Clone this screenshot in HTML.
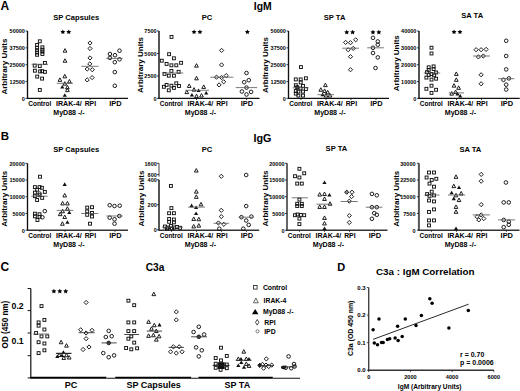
<!DOCTYPE html>
<html><head><meta charset="utf-8"><style>
html,body{margin:0;padding:0;background:#fff;}
svg{display:block;font-family:"Liberation Sans",sans-serif;font-weight:bold;}
</style></head><body>
<svg width="520" height="391" viewBox="0 0 520 391" font-family="Liberation Sans, sans-serif" font-weight="bold">
<style>.m{stroke:#111;stroke-width:0.95}</style>
<rect width="520" height="391" fill="#fff"/>
<text x="0.60" y="9.70" font-size="12" text-anchor="start" >A</text>
<text x="0.80" y="140.40" font-size="11.5" text-anchor="start" >B</text>
<text x="0.60" y="271.00" font-size="12" text-anchor="start" >C</text>
<text x="337.20" y="270.60" font-size="11" text-anchor="start" >D</text>
<text x="262.80" y="10.20" font-size="10.4" text-anchor="middle" >IgM</text>
<text x="262.40" y="142.30" font-size="10.8" text-anchor="middle" >IgG</text>
<line x1="27.50" y1="31.00" x2="27.50" y2="98.40" stroke="#111" stroke-width="1.35"/>
<line x1="26.90" y1="98.40" x2="128.00" y2="98.40" stroke="#111" stroke-width="1.35"/>
<line x1="25.50" y1="31.00" x2="27.50" y2="31.00" stroke="#111" stroke-width="0.8"/>
<text x="24.90" y="33.30" font-size="5.5" text-anchor="end" >50000</text>
<line x1="25.50" y1="47.85" x2="27.50" y2="47.85" stroke="#111" stroke-width="0.8"/>
<text x="24.90" y="50.15" font-size="5.5" text-anchor="end" >37500</text>
<line x1="25.50" y1="64.70" x2="27.50" y2="64.70" stroke="#111" stroke-width="0.8"/>
<text x="24.90" y="67.00" font-size="5.5" text-anchor="end" >25000</text>
<line x1="25.50" y1="81.55" x2="27.50" y2="81.55" stroke="#111" stroke-width="0.8"/>
<text x="24.90" y="83.85" font-size="5.5" text-anchor="end" >12500</text>
<line x1="25.50" y1="98.40" x2="27.50" y2="98.40" stroke="#111" stroke-width="0.8"/>
<text x="24.90" y="100.70" font-size="5.5" text-anchor="end" >0</text>
<line x1="40.00" y1="98.40" x2="40.00" y2="100.00" stroke="#111" stroke-width="0.8"/>
<line x1="65.00" y1="98.40" x2="65.00" y2="100.00" stroke="#111" stroke-width="0.8"/>
<line x1="90.00" y1="98.40" x2="90.00" y2="100.00" stroke="#111" stroke-width="0.8"/>
<line x1="115.00" y1="98.40" x2="115.00" y2="100.00" stroke="#111" stroke-width="0.8"/>
<text x="39.80" y="106.00" font-size="6.5" text-anchor="middle" lengthAdjust="spacingAndGlyphs" textLength="23.2">Control</text>
<text x="68.80" y="106.00" font-size="6.6" text-anchor="middle" lengthAdjust="spacingAndGlyphs" textLength="25.6">IRAK-4/</text>
<text x="90.40" y="106.00" font-size="6.6" text-anchor="middle" lengthAdjust="spacingAndGlyphs" textLength="11.4">RPI</text>
<text x="115.40" y="106.00" font-size="6.6" text-anchor="middle" lengthAdjust="spacingAndGlyphs" textLength="12.4">IPD</text>
<text x="68.95" y="114.80" font-size="6.8" text-anchor="middle" lengthAdjust="spacingAndGlyphs" textLength="31.4">MyD88 -/-</text>
<text x="0" y="0" font-size="8" text-anchor="middle" transform="translate(6.80,66.60) rotate(-90)">Arbitrary Units</text>
<text x="76.20" y="19.80" font-size="7.6" text-anchor="middle" >SP Capsules</text>
<line x1="159.00" y1="31.00" x2="159.00" y2="98.40" stroke="#555" stroke-width="2.0"/>
<line x1="158.40" y1="98.40" x2="259.50" y2="98.40" stroke="#111" stroke-width="1.35"/>
<line x1="157.00" y1="31.00" x2="159.00" y2="31.00" stroke="#111" stroke-width="0.8"/>
<text x="156.60" y="33.30" font-size="5.5" text-anchor="end" >7500</text>
<line x1="157.00" y1="53.47" x2="159.00" y2="53.47" stroke="#111" stroke-width="0.8"/>
<text x="156.60" y="55.77" font-size="5.5" text-anchor="end" >5000</text>
<line x1="157.00" y1="75.93" x2="159.00" y2="75.93" stroke="#111" stroke-width="0.8"/>
<text x="156.60" y="78.23" font-size="5.5" text-anchor="end" >2500</text>
<line x1="157.00" y1="98.40" x2="159.00" y2="98.40" stroke="#111" stroke-width="0.8"/>
<text x="156.60" y="100.70" font-size="5.5" text-anchor="end" >0</text>
<line x1="171.50" y1="98.40" x2="171.50" y2="100.00" stroke="#111" stroke-width="0.8"/>
<line x1="196.50" y1="98.40" x2="196.50" y2="100.00" stroke="#111" stroke-width="0.8"/>
<line x1="221.50" y1="98.40" x2="221.50" y2="100.00" stroke="#111" stroke-width="0.8"/>
<line x1="246.50" y1="98.40" x2="246.50" y2="100.00" stroke="#111" stroke-width="0.8"/>
<text x="171.30" y="106.00" font-size="6.5" text-anchor="middle" lengthAdjust="spacingAndGlyphs" textLength="23.2">Control</text>
<text x="200.30" y="106.00" font-size="6.6" text-anchor="middle" lengthAdjust="spacingAndGlyphs" textLength="25.6">IRAK-4/</text>
<text x="221.90" y="106.00" font-size="6.6" text-anchor="middle" lengthAdjust="spacingAndGlyphs" textLength="11.4">RPI</text>
<text x="246.90" y="106.00" font-size="6.6" text-anchor="middle" lengthAdjust="spacingAndGlyphs" textLength="12.4">IPD</text>
<text x="200.45" y="114.80" font-size="6.8" text-anchor="middle" lengthAdjust="spacingAndGlyphs" textLength="31.4">MyD88 -/-</text>
<text x="0" y="0" font-size="8" text-anchor="middle" transform="translate(143.10,65.00) rotate(-90)">Arbitrary Units</text>
<text x="207.00" y="19.90" font-size="7.6" text-anchor="middle" >PC</text>
<line x1="288.50" y1="31.00" x2="288.50" y2="98.40" stroke="#111" stroke-width="1.35"/>
<line x1="287.90" y1="98.40" x2="389.00" y2="98.40" stroke="#111" stroke-width="1.35"/>
<line x1="286.50" y1="31.00" x2="288.50" y2="31.00" stroke="#111" stroke-width="0.8"/>
<text x="285.90" y="33.30" font-size="5.5" text-anchor="end" >50000</text>
<line x1="286.50" y1="47.85" x2="288.50" y2="47.85" stroke="#111" stroke-width="0.8"/>
<text x="285.90" y="50.15" font-size="5.5" text-anchor="end" >37500</text>
<line x1="286.50" y1="64.70" x2="288.50" y2="64.70" stroke="#111" stroke-width="0.8"/>
<text x="285.90" y="67.00" font-size="5.5" text-anchor="end" >25000</text>
<line x1="286.50" y1="81.55" x2="288.50" y2="81.55" stroke="#111" stroke-width="0.8"/>
<text x="285.90" y="83.85" font-size="5.5" text-anchor="end" >12500</text>
<line x1="286.50" y1="98.40" x2="288.50" y2="98.40" stroke="#111" stroke-width="0.8"/>
<text x="285.90" y="100.70" font-size="5.5" text-anchor="end" >0</text>
<line x1="301.00" y1="98.40" x2="301.00" y2="100.00" stroke="#111" stroke-width="0.8"/>
<line x1="326.00" y1="98.40" x2="326.00" y2="100.00" stroke="#111" stroke-width="0.8"/>
<line x1="351.00" y1="98.40" x2="351.00" y2="100.00" stroke="#111" stroke-width="0.8"/>
<line x1="376.00" y1="98.40" x2="376.00" y2="100.00" stroke="#111" stroke-width="0.8"/>
<text x="300.80" y="106.00" font-size="6.5" text-anchor="middle" lengthAdjust="spacingAndGlyphs" textLength="23.2">Control</text>
<text x="329.80" y="106.00" font-size="6.6" text-anchor="middle" lengthAdjust="spacingAndGlyphs" textLength="25.6">IRAK-4/</text>
<text x="351.40" y="106.00" font-size="6.6" text-anchor="middle" lengthAdjust="spacingAndGlyphs" textLength="11.4">RPI</text>
<text x="376.40" y="106.00" font-size="6.6" text-anchor="middle" lengthAdjust="spacingAndGlyphs" textLength="12.4">IPD</text>
<text x="329.95" y="114.80" font-size="6.8" text-anchor="middle" lengthAdjust="spacingAndGlyphs" textLength="31.4">MyD88 -/-</text>
<text x="0" y="0" font-size="8" text-anchor="middle" transform="translate(267.60,65.10) rotate(-90)">Arbitrary Units</text>
<text x="334.60" y="19.50" font-size="7.6" text-anchor="middle" >SP TA</text>
<line x1="419.00" y1="31.00" x2="419.00" y2="98.40" stroke="#555" stroke-width="2.0"/>
<line x1="418.40" y1="98.40" x2="519.70" y2="98.40" stroke="#111" stroke-width="1.35"/>
<line x1="417.00" y1="31.00" x2="419.00" y2="31.00" stroke="#111" stroke-width="0.8"/>
<text x="416.40" y="33.30" font-size="5.5" text-anchor="end" >40000</text>
<line x1="417.00" y1="47.85" x2="419.00" y2="47.85" stroke="#111" stroke-width="0.8"/>
<text x="416.40" y="50.15" font-size="5.5" text-anchor="end" >30000</text>
<line x1="417.00" y1="64.70" x2="419.00" y2="64.70" stroke="#111" stroke-width="0.8"/>
<text x="416.40" y="67.00" font-size="5.5" text-anchor="end" >20000</text>
<line x1="417.00" y1="81.55" x2="419.00" y2="81.55" stroke="#111" stroke-width="0.8"/>
<text x="416.40" y="83.85" font-size="5.5" text-anchor="end" >10000</text>
<line x1="417.00" y1="98.40" x2="419.00" y2="98.40" stroke="#111" stroke-width="0.8"/>
<text x="416.40" y="100.70" font-size="5.5" text-anchor="end" >0</text>
<line x1="431.50" y1="98.40" x2="431.50" y2="100.00" stroke="#111" stroke-width="0.8"/>
<line x1="456.50" y1="98.40" x2="456.50" y2="100.00" stroke="#111" stroke-width="0.8"/>
<line x1="481.50" y1="98.40" x2="481.50" y2="100.00" stroke="#111" stroke-width="0.8"/>
<line x1="506.50" y1="98.40" x2="506.50" y2="100.00" stroke="#111" stroke-width="0.8"/>
<text x="431.30" y="106.00" font-size="6.5" text-anchor="middle" lengthAdjust="spacingAndGlyphs" textLength="23.2">Control</text>
<text x="460.30" y="106.00" font-size="6.6" text-anchor="middle" lengthAdjust="spacingAndGlyphs" textLength="25.6">IRAK-4/</text>
<text x="481.90" y="106.00" font-size="6.6" text-anchor="middle" lengthAdjust="spacingAndGlyphs" textLength="11.4">RPI</text>
<text x="506.90" y="106.00" font-size="6.6" text-anchor="middle" lengthAdjust="spacingAndGlyphs" textLength="12.4">IPD</text>
<text x="460.45" y="114.80" font-size="6.8" text-anchor="middle" lengthAdjust="spacingAndGlyphs" textLength="31.4">MyD88 -/-</text>
<text x="0" y="0" font-size="8" text-anchor="middle" transform="translate(398.80,63.20) rotate(-90)">Arbitrary Units</text>
<text x="472.20" y="18.10" font-size="7.6" text-anchor="middle" >SA TA</text>
<polygon points="62.85,29.40 63.61,30.95 65.32,31.20 64.09,32.40 64.38,34.10 62.85,33.30 61.32,34.10 61.61,32.40 60.38,31.20 62.09,30.95" fill="#000"/>
<polygon points="68.75,29.40 69.51,30.95 71.22,31.20 69.99,32.40 70.28,34.10 68.75,33.30 67.22,34.10 67.51,32.40 66.28,31.20 67.99,30.95" fill="#000"/>
<polygon points="194.05,29.40 194.81,30.95 196.52,31.20 195.29,32.40 195.58,34.10 194.05,33.30 192.52,34.10 192.81,32.40 191.58,31.20 193.29,30.95" fill="#000"/>
<polygon points="199.95,29.40 200.71,30.95 202.42,31.20 201.19,32.40 201.48,34.10 199.95,33.30 198.42,34.10 198.71,32.40 197.48,31.20 199.19,30.95" fill="#000"/>
<polygon points="247.40,29.40 248.16,30.95 249.87,31.20 248.64,32.40 248.93,34.10 247.40,33.30 245.87,34.10 246.16,32.40 244.93,31.20 246.64,30.95" fill="#000"/>
<polygon points="346.75,29.70 347.51,31.25 349.22,31.50 347.99,32.70 348.28,34.40 346.75,33.60 345.22,34.40 345.51,32.70 344.28,31.50 345.99,31.25" fill="#000"/>
<polygon points="352.65,29.70 353.41,31.25 355.12,31.50 353.89,32.70 354.18,34.40 352.65,33.60 351.12,34.40 351.41,32.70 350.18,31.50 351.89,31.25" fill="#000"/>
<polygon points="372.95,29.70 373.71,31.25 375.42,31.50 374.19,32.70 374.48,34.40 372.95,33.60 371.42,34.40 371.71,32.70 370.48,31.50 372.19,31.25" fill="#000"/>
<polygon points="378.85,29.70 379.61,31.25 381.32,31.50 380.09,32.70 380.38,34.40 378.85,33.60 377.32,34.40 377.61,32.70 376.38,31.50 378.09,31.25" fill="#000"/>
<polygon points="454.05,29.40 454.81,30.95 456.52,31.20 455.29,32.40 455.58,34.10 454.05,33.30 452.52,34.10 452.81,32.40 451.58,31.20 453.29,30.95" fill="#000"/>
<polygon points="459.95,29.40 460.71,30.95 462.42,31.20 461.19,32.40 461.48,34.10 459.95,33.30 458.42,34.10 458.71,32.40 457.48,31.20 459.19,30.95" fill="#000"/>
<rect x="38.35" y="39.85" width="2.9" height="2.9" fill="none" class="m"/>
<rect x="35.65" y="43.45" width="2.9" height="2.9" fill="none" class="m"/>
<rect x="35.65" y="46.35" width="2.9" height="2.9" fill="none" class="m"/>
<rect x="35.65" y="48.75" width="2.9" height="2.9" fill="none" class="m"/>
<rect x="35.65" y="51.15" width="2.9" height="2.9" fill="none" class="m"/>
<rect x="35.65" y="53.35" width="2.9" height="2.9" fill="none" class="m"/>
<rect x="40.95" y="45.85" width="2.9" height="2.9" fill="none" class="m"/>
<rect x="40.95" y="48.25" width="2.9" height="2.9" fill="none" class="m"/>
<rect x="40.95" y="50.15" width="2.9" height="2.9" fill="none" class="m"/>
<rect x="40.95" y="52.55" width="2.9" height="2.9" fill="none" class="m"/>
<rect x="43.45" y="61.45" width="2.9" height="2.9" fill="none" class="m"/>
<rect x="33.25" y="64.15" width="2.9" height="2.9" fill="none" class="m"/>
<rect x="38.35" y="64.65" width="2.9" height="2.9" fill="none" class="m"/>
<rect x="33.45" y="69.25" width="2.9" height="2.9" fill="none" class="m"/>
<rect x="38.65" y="69.95" width="2.9" height="2.9" fill="none" class="m"/>
<rect x="40.75" y="69.75" width="2.9" height="2.9" fill="none" class="m"/>
<rect x="43.45" y="70.45" width="2.9" height="2.9" fill="none" class="m"/>
<rect x="35.75" y="75.15" width="2.9" height="2.9" fill="none" class="m"/>
<rect x="40.65" y="77.15" width="2.9" height="2.9" fill="none" class="m"/>
<rect x="38.35" y="88.45" width="2.9" height="2.9" fill="none" class="m"/>
<line x1="31.60" y1="64.30" x2="48.00" y2="64.30" stroke="#555" stroke-width="0.8"/>
<path d="M65.00 48.65L66.85 52.15L63.15 52.15Z" fill="none" class="m"/>
<path d="M65.00 58.75L66.85 62.25L63.15 62.25Z" fill="none" class="m"/>
<path d="M64.80 74.35L66.65 77.85L62.95 77.85Z" fill="none" class="m"/>
<path d="M59.90 77.85L61.75 81.35L58.05 81.35Z" fill="none" class="m"/>
<path d="M69.40 79.45L71.25 82.95L67.55 82.95Z" fill="none" class="m"/>
<path d="M64.80 81.65L66.65 85.15L62.95 85.15Z" fill="none" class="m"/>
<path d="M67.40 85.35L69.25 88.85L65.55 88.85Z" fill="none" class="m"/>
<path d="M67.40 88.15L69.25 91.65L65.55 91.65Z" fill="none" class="m"/>
<path d="M62.30 85.00L64.40 88.60L60.20 88.60Z" fill="#111"/>
<path d="M64.80 93.20L66.90 96.80L62.70 96.80Z" fill="#111"/>
<line x1="56.70" y1="83.30" x2="73.00" y2="83.30" stroke="#555" stroke-width="0.8"/>
<path d="M90.00 40.90L92.10 43.00L90.00 45.10L87.90 43.00Z" fill="none" class="m"/>
<path d="M90.00 46.40L92.10 48.50L90.00 50.60L87.90 48.50Z" fill="none" class="m"/>
<path d="M90.00 55.80L92.10 57.90L90.00 60.00L87.90 57.90Z" fill="none" class="m"/>
<path d="M89.80 61.80L91.90 63.90L89.80 66.00L87.70 63.90Z" fill="none" class="m"/>
<path d="M87.20 66.90L89.30 69.00L87.20 71.10L85.10 69.00Z" fill="none" class="m"/>
<path d="M92.30 67.60L94.40 69.70L92.30 71.80L90.20 69.70Z" fill="none" class="m"/>
<path d="M92.10 75.50L94.20 77.60L92.10 79.70L90.00 77.60Z" fill="none" class="m"/>
<path d="M87.20 77.80L89.30 79.90L87.20 82.00L85.10 79.90Z" fill="none" class="m"/>
<line x1="81.30" y1="66.30" x2="98.50" y2="66.30" stroke="#555" stroke-width="0.8"/>
<circle cx="119.50" cy="50.70" r="1.8" fill="none" class="m"/>
<circle cx="109.90" cy="54.00" r="1.8" fill="none" class="m"/>
<circle cx="109.90" cy="57.90" r="1.8" fill="none" class="m"/>
<circle cx="115.00" cy="55.20" r="1.8" fill="none" class="m"/>
<circle cx="119.50" cy="59.30" r="1.8" fill="none" class="m"/>
<circle cx="114.80" cy="62.20" r="1.8" fill="none" class="m"/>
<circle cx="114.80" cy="72.10" r="1.8" fill="none" class="m"/>
<circle cx="114.80" cy="85.80" r="1.8" fill="none" class="m"/>
<line x1="106.30" y1="58.40" x2="122.70" y2="58.40" stroke="#555" stroke-width="0.8"/>
<rect x="170.05" y="35.45" width="2.9" height="2.9" fill="none" class="m"/>
<rect x="167.65" y="52.75" width="2.9" height="2.9" fill="none" class="m"/>
<rect x="172.45" y="56.85" width="2.9" height="2.9" fill="none" class="m"/>
<rect x="160.35" y="59.25" width="2.9" height="2.9" fill="none" class="m"/>
<rect x="165.15" y="62.45" width="2.9" height="2.9" fill="none" class="m"/>
<rect x="169.95" y="63.85" width="2.9" height="2.9" fill="none" class="m"/>
<rect x="174.85" y="63.85" width="2.9" height="2.9" fill="none" class="m"/>
<rect x="179.65" y="61.35" width="2.9" height="2.9" fill="none" class="m"/>
<rect x="169.95" y="69.45" width="2.9" height="2.9" fill="none" class="m"/>
<rect x="163.05" y="72.45" width="2.9" height="2.9" fill="none" class="m"/>
<rect x="167.35" y="74.25" width="2.9" height="2.9" fill="none" class="m"/>
<rect x="172.45" y="74.25" width="2.9" height="2.9" fill="none" class="m"/>
<rect x="177.15" y="70.35" width="2.9" height="2.9" fill="none" class="m"/>
<rect x="162.45" y="85.35" width="2.9" height="2.9" fill="none" class="m"/>
<rect x="165.15" y="83.45" width="2.9" height="2.9" fill="none" class="m"/>
<rect x="169.95" y="84.25" width="2.9" height="2.9" fill="none" class="m"/>
<rect x="172.45" y="86.45" width="2.9" height="2.9" fill="none" class="m"/>
<rect x="174.85" y="81.85" width="2.9" height="2.9" fill="none" class="m"/>
<rect x="177.55" y="84.55" width="2.9" height="2.9" fill="none" class="m"/>
<rect x="167.35" y="88.85" width="2.9" height="2.9" fill="none" class="m"/>
<line x1="162.30" y1="73.00" x2="183.30" y2="73.00" stroke="#555" stroke-width="0.8"/>
<path d="M196.50 63.65L198.35 67.15L194.65 67.15Z" fill="none" class="m"/>
<path d="M196.50 76.35L198.35 79.85L194.65 79.85Z" fill="none" class="m"/>
<path d="M189.20 83.95L191.05 87.45L187.35 87.45Z" fill="none" class="m"/>
<path d="M203.70 84.95L205.55 88.45L201.85 88.45Z" fill="none" class="m"/>
<path d="M194.00 87.65L195.85 91.15L192.15 91.15Z" fill="none" class="m"/>
<path d="M186.80 90.15L188.65 93.65L184.95 93.65Z" fill="none" class="m"/>
<path d="M196.50 94.15L198.35 97.65L194.65 97.65Z" fill="none" class="m"/>
<path d="M201.50 93.55L203.35 97.05L199.65 97.05Z" fill="none" class="m"/>
<path d="M198.60 88.50L200.70 92.10L196.50 92.10Z" fill="#111"/>
<path d="M191.90 93.00L194.00 96.60L189.80 96.60Z" fill="#111"/>
<path d="M206.20 90.90L208.30 94.50L204.10 94.50Z" fill="#111"/>
<line x1="185.40" y1="90.30" x2="209.00" y2="90.30" stroke="#555" stroke-width="0.8"/>
<path d="M221.60 48.30L223.70 50.40L221.60 52.50L219.50 50.40Z" fill="none" class="m"/>
<path d="M221.60 62.80L223.70 64.90L221.60 67.00L219.50 64.90Z" fill="none" class="m"/>
<path d="M216.50 75.10L218.60 77.20L216.50 79.30L214.40 77.20Z" fill="none" class="m"/>
<path d="M221.60 75.50L223.70 77.60L221.60 79.70L219.50 77.60Z" fill="none" class="m"/>
<path d="M226.20 73.50L228.30 75.60L226.20 77.70L224.10 75.60Z" fill="none" class="m"/>
<path d="M223.70 79.70L225.80 81.80L223.70 83.90L221.60 81.80Z" fill="none" class="m"/>
<path d="M219.10 82.80L221.20 84.90L219.10 87.00L217.00 84.90Z" fill="none" class="m"/>
<line x1="210.40" y1="77.20" x2="233.40" y2="77.20" stroke="#555" stroke-width="0.8"/>
<circle cx="246.50" cy="73.00" r="1.8" fill="none" class="m"/>
<circle cx="244.20" cy="82.20" r="1.8" fill="none" class="m"/>
<circle cx="248.80" cy="80.20" r="1.8" fill="none" class="m"/>
<circle cx="246.50" cy="87.60" r="1.8" fill="none" class="m"/>
<circle cx="241.90" cy="91.50" r="1.8" fill="none" class="m"/>
<circle cx="251.10" cy="91.90" r="1.8" fill="none" class="m"/>
<circle cx="246.50" cy="94.50" r="1.8" fill="none" class="m"/>
<line x1="235.70" y1="87.60" x2="257.20" y2="87.60" stroke="#555" stroke-width="0.8"/>
<rect x="299.45" y="65.65" width="2.9" height="2.9" fill="none" class="m"/>
<rect x="294.35" y="77.95" width="2.9" height="2.9" fill="none" class="m"/>
<rect x="299.25" y="77.95" width="2.9" height="2.9" fill="none" class="m"/>
<rect x="304.45" y="76.85" width="2.9" height="2.9" fill="none" class="m"/>
<rect x="299.25" y="80.95" width="2.9" height="2.9" fill="none" class="m"/>
<rect x="294.35" y="83.75" width="2.9" height="2.9" fill="none" class="m"/>
<rect x="301.55" y="84.45" width="2.9" height="2.9" fill="none" class="m"/>
<rect x="304.45" y="87.55" width="2.9" height="2.9" fill="none" class="m"/>
<rect x="294.35" y="89.55" width="2.9" height="2.9" fill="none" class="m"/>
<rect x="296.95" y="90.15" width="2.9" height="2.9" fill="none" class="m"/>
<rect x="301.55" y="90.15" width="2.9" height="2.9" fill="none" class="m"/>
<rect x="294.35" y="92.15" width="2.9" height="2.9" fill="none" class="m"/>
<rect x="296.95" y="94.15" width="2.9" height="2.9" fill="none" class="m"/>
<rect x="301.55" y="94.15" width="2.9" height="2.9" fill="none" class="m"/>
<rect x="299.05" y="87.05" width="2.9" height="2.9" fill="none" class="m"/>
<rect x="295.75" y="85.85" width="2.9" height="2.9" fill="#333" class="m"/>
<line x1="292.60" y1="87.80" x2="308.70" y2="87.80" stroke="#555" stroke-width="0.8"/>
<path d="M325.40 83.15L327.25 86.65L323.55 86.65Z" fill="none" class="m"/>
<path d="M320.80 87.75L322.65 91.25L318.95 91.25Z" fill="none" class="m"/>
<path d="M324.60 88.95L326.45 92.45L322.75 92.45Z" fill="none" class="m"/>
<path d="M327.70 90.35L329.55 93.85L325.85 93.85Z" fill="none" class="m"/>
<path d="M326.00 93.55L327.85 97.05L324.15 97.05Z" fill="none" class="m"/>
<path d="M330.00 93.55L331.85 97.05L328.15 97.05Z" fill="none" class="m"/>
<path d="M322.60 92.60L324.70 96.20L320.50 96.20Z" fill="#111"/>
<line x1="317.40" y1="94.70" x2="334.00" y2="94.70" stroke="#555" stroke-width="0.8"/>
<path d="M345.60 40.30L347.70 42.40L345.60 44.50L343.50 42.40Z" fill="none" class="m"/>
<path d="M350.50 40.60L352.60 42.70L350.50 44.80L348.40 42.70Z" fill="none" class="m"/>
<path d="M355.70 37.70L357.80 39.80L355.70 41.90L353.60 39.80Z" fill="none" class="m"/>
<path d="M348.20 47.70L350.30 49.80L348.20 51.90L346.10 49.80Z" fill="none" class="m"/>
<path d="M353.20 46.30L355.30 48.40L353.20 50.50L351.10 48.40Z" fill="none" class="m"/>
<path d="M350.50 54.60L352.60 56.70L350.50 58.80L348.40 56.70Z" fill="none" class="m"/>
<path d="M350.50 67.60L352.60 69.70L350.50 71.80L348.40 69.70Z" fill="none" class="m"/>
<line x1="342.10" y1="48.20" x2="358.90" y2="48.20" stroke="#555" stroke-width="0.8"/>
<circle cx="373.00" cy="37.80" r="1.8" fill="none" class="m"/>
<circle cx="377.80" cy="41.50" r="1.8" fill="none" class="m"/>
<circle cx="377.80" cy="44.70" r="1.8" fill="none" class="m"/>
<circle cx="373.00" cy="47.80" r="1.8" fill="none" class="m"/>
<circle cx="373.00" cy="53.00" r="1.8" fill="none" class="m"/>
<circle cx="377.80" cy="57.40" r="1.8" fill="none" class="m"/>
<circle cx="375.50" cy="68.00" r="1.8" fill="none" class="m"/>
<line x1="367.20" y1="47.80" x2="383.90" y2="47.80" stroke="#555" stroke-width="0.8"/>
<rect x="430.05" y="46.25" width="2.9" height="2.9" fill="none" class="m"/>
<rect x="430.05" y="52.05" width="2.9" height="2.9" fill="none" class="m"/>
<rect x="427.25" y="65.85" width="2.9" height="2.9" fill="none" class="m"/>
<rect x="432.15" y="64.95" width="2.9" height="2.9" fill="none" class="m"/>
<rect x="427.25" y="68.45" width="2.9" height="2.9" fill="none" class="m"/>
<rect x="432.15" y="67.65" width="2.9" height="2.9" fill="none" class="m"/>
<rect x="425.45" y="70.75" width="2.9" height="2.9" fill="none" class="m"/>
<rect x="434.65" y="71.05" width="2.9" height="2.9" fill="none" class="m"/>
<rect x="430.05" y="72.55" width="2.9" height="2.9" fill="none" class="m"/>
<rect x="427.25" y="73.55" width="2.9" height="2.9" fill="none" class="m"/>
<rect x="432.65" y="73.85" width="2.9" height="2.9" fill="none" class="m"/>
<rect x="424.95" y="76.15" width="2.9" height="2.9" fill="none" class="m"/>
<rect x="430.05" y="78.15" width="2.9" height="2.9" fill="none" class="m"/>
<rect x="434.65" y="77.25" width="2.9" height="2.9" fill="none" class="m"/>
<rect x="430.05" y="84.25" width="2.9" height="2.9" fill="none" class="m"/>
<rect x="424.95" y="87.35" width="2.9" height="2.9" fill="none" class="m"/>
<rect x="434.65" y="88.35" width="2.9" height="2.9" fill="none" class="m"/>
<rect x="430.05" y="91.45" width="2.9" height="2.9" fill="none" class="m"/>
<line x1="423.80" y1="73.00" x2="440.20" y2="73.00" stroke="#555" stroke-width="0.8"/>
<path d="M456.30 71.95L458.15 75.45L454.45 75.45Z" fill="none" class="m"/>
<path d="M456.30 77.85L458.15 81.35L454.45 81.35Z" fill="none" class="m"/>
<path d="M454.00 83.65L455.85 87.15L452.15 87.15Z" fill="none" class="m"/>
<path d="M458.60 85.85L460.45 89.35L456.75 89.35Z" fill="none" class="m"/>
<path d="M451.70 91.65L453.55 95.15L449.85 95.15Z" fill="none" class="m"/>
<path d="M455.60 90.05L457.45 93.55L453.75 93.55Z" fill="none" class="m"/>
<path d="M457.60 91.90L459.70 95.50L455.50 95.50Z" fill="#111"/>
<path d="M460.20 93.90L462.30 97.50L458.10 97.50Z" fill="#111"/>
<line x1="448.70" y1="92.90" x2="464.00" y2="92.90" stroke="#555" stroke-width="0.8"/>
<path d="M476.10 47.60L478.20 49.70L476.10 51.80L474.00 49.70Z" fill="none" class="m"/>
<path d="M481.10 47.60L483.20 49.70L481.10 51.80L479.00 49.70Z" fill="none" class="m"/>
<path d="M486.10 47.30L488.20 49.40L486.10 51.50L484.00 49.40Z" fill="none" class="m"/>
<path d="M478.40 54.80L480.50 56.90L478.40 59.00L476.30 56.90Z" fill="none" class="m"/>
<path d="M483.30 53.90L485.40 56.00L483.30 58.10L481.20 56.00Z" fill="none" class="m"/>
<path d="M481.10 72.70L483.20 74.80L481.10 76.90L479.00 74.80Z" fill="none" class="m"/>
<path d="M481.10 81.70L483.20 83.80L481.10 85.90L479.00 83.80Z" fill="none" class="m"/>
<line x1="473.00" y1="56.00" x2="490.00" y2="56.00" stroke="#555" stroke-width="0.8"/>
<circle cx="506.20" cy="40.80" r="1.8" fill="none" class="m"/>
<circle cx="506.20" cy="56.00" r="1.8" fill="none" class="m"/>
<circle cx="506.20" cy="69.40" r="1.8" fill="none" class="m"/>
<circle cx="503.50" cy="79.80" r="1.8" fill="none" class="m"/>
<circle cx="508.90" cy="78.40" r="1.8" fill="none" class="m"/>
<circle cx="506.20" cy="84.70" r="1.8" fill="none" class="m"/>
<circle cx="506.20" cy="89.50" r="1.8" fill="none" class="m"/>
<line x1="498.20" y1="78.70" x2="514.30" y2="78.70" stroke="#555" stroke-width="0.8"/>
<line x1="27.50" y1="163.30" x2="27.50" y2="230.20" stroke="#111" stroke-width="1.35"/>
<line x1="26.90" y1="230.20" x2="128.00" y2="230.20" stroke="#333" stroke-width="1.35"/>
<line x1="25.50" y1="163.30" x2="27.50" y2="163.30" stroke="#111" stroke-width="0.8"/>
<text x="24.80" y="165.60" font-size="5.5" text-anchor="end" >20000</text>
<line x1="25.50" y1="180.03" x2="27.50" y2="180.03" stroke="#111" stroke-width="0.8"/>
<text x="24.80" y="182.33" font-size="5.5" text-anchor="end" >15000</text>
<line x1="25.50" y1="196.75" x2="27.50" y2="196.75" stroke="#111" stroke-width="0.8"/>
<text x="24.80" y="199.05" font-size="5.5" text-anchor="end" >10000</text>
<line x1="25.50" y1="213.47" x2="27.50" y2="213.47" stroke="#111" stroke-width="0.8"/>
<text x="24.80" y="215.78" font-size="5.5" text-anchor="end" >5000</text>
<line x1="25.50" y1="230.20" x2="27.50" y2="230.20" stroke="#111" stroke-width="0.8"/>
<text x="24.80" y="232.50" font-size="5.5" text-anchor="end" >0</text>
<line x1="40.00" y1="230.20" x2="40.00" y2="231.80" stroke="#111" stroke-width="0.8"/>
<line x1="65.00" y1="230.20" x2="65.00" y2="231.80" stroke="#111" stroke-width="0.8"/>
<line x1="90.00" y1="230.20" x2="90.00" y2="231.80" stroke="#111" stroke-width="0.8"/>
<line x1="115.00" y1="230.20" x2="115.00" y2="231.80" stroke="#111" stroke-width="0.8"/>
<text x="39.80" y="237.80" font-size="6.5" text-anchor="middle" lengthAdjust="spacingAndGlyphs" textLength="23.2">Control</text>
<text x="68.80" y="237.80" font-size="6.6" text-anchor="middle" lengthAdjust="spacingAndGlyphs" textLength="25.6">IRAK-4/</text>
<text x="90.40" y="237.80" font-size="6.6" text-anchor="middle" lengthAdjust="spacingAndGlyphs" textLength="11.4">RPI</text>
<text x="115.40" y="237.80" font-size="6.6" text-anchor="middle" lengthAdjust="spacingAndGlyphs" textLength="12.4">IPD</text>
<text x="68.95" y="246.60" font-size="6.8" text-anchor="middle" lengthAdjust="spacingAndGlyphs" textLength="31.4">MyD88 -/-</text>
<text x="0" y="0" font-size="8" text-anchor="middle" transform="translate(6.70,198.70) rotate(-90)">Arbitrary Units</text>
<text x="76.20" y="152.40" font-size="7.6" text-anchor="middle" >SP Capsules</text>
<line x1="159.00" y1="179.80" x2="159.00" y2="230.20" stroke="#555" stroke-width="2.0"/>
<line x1="159.00" y1="163.30" x2="159.00" y2="176.60" stroke="#444" stroke-width="1.0"/>
<line x1="158.40" y1="230.20" x2="259.20" y2="230.20" stroke="#333" stroke-width="1.35"/>
<line x1="157.00" y1="163.30" x2="159.00" y2="163.30" stroke="#111" stroke-width="0.8"/>
<text x="156.80" y="165.60" font-size="5.5" text-anchor="end" >1600</text>
<line x1="157.00" y1="174.60" x2="159.00" y2="174.60" stroke="#111" stroke-width="0.8"/>
<text x="156.80" y="176.90" font-size="5.5" text-anchor="end" >800</text>
<line x1="157.00" y1="179.80" x2="159.00" y2="179.80" stroke="#111" stroke-width="0.8"/>
<text x="156.80" y="182.10" font-size="5.5" text-anchor="end" >400</text>
<line x1="157.00" y1="204.80" x2="159.00" y2="204.80" stroke="#111" stroke-width="0.8"/>
<text x="156.80" y="207.10" font-size="5.5" text-anchor="end" >200</text>
<line x1="157.00" y1="229.80" x2="159.00" y2="229.80" stroke="#111" stroke-width="0.8"/>
<text x="156.80" y="232.10" font-size="5.5" text-anchor="end" >0</text>
<line x1="171.50" y1="230.20" x2="171.50" y2="231.80" stroke="#111" stroke-width="0.8"/>
<line x1="196.50" y1="230.20" x2="196.50" y2="231.80" stroke="#111" stroke-width="0.8"/>
<line x1="221.50" y1="230.20" x2="221.50" y2="231.80" stroke="#111" stroke-width="0.8"/>
<line x1="246.50" y1="230.20" x2="246.50" y2="231.80" stroke="#111" stroke-width="0.8"/>
<text x="171.30" y="237.80" font-size="6.5" text-anchor="middle" lengthAdjust="spacingAndGlyphs" textLength="23.2">Control</text>
<text x="200.30" y="237.80" font-size="6.6" text-anchor="middle" lengthAdjust="spacingAndGlyphs" textLength="25.6">IRAK-4/</text>
<text x="221.90" y="237.80" font-size="6.6" text-anchor="middle" lengthAdjust="spacingAndGlyphs" textLength="11.4">RPI</text>
<text x="246.90" y="237.80" font-size="6.6" text-anchor="middle" lengthAdjust="spacingAndGlyphs" textLength="12.4">IPD</text>
<text x="200.45" y="246.60" font-size="6.8" text-anchor="middle" lengthAdjust="spacingAndGlyphs" textLength="31.4">MyD88 -/-</text>
<text x="0" y="0" font-size="8" text-anchor="middle" transform="translate(143.5,198.6) rotate(-90)">Arbitrary Units</text>
<text x="207.00" y="151.80" font-size="7.6" text-anchor="middle" >PC</text>
<line x1="287.00" y1="163.30" x2="287.00" y2="230.20" stroke="#555" stroke-width="1.8"/>
<line x1="286.40" y1="230.20" x2="387.50" y2="230.20" stroke="#333" stroke-width="1.35"/>
<line x1="285.00" y1="163.30" x2="287.00" y2="163.30" stroke="#111" stroke-width="0.8"/>
<text x="284.50" y="165.60" font-size="5.5" text-anchor="end" >20000</text>
<line x1="285.00" y1="180.03" x2="287.00" y2="180.03" stroke="#111" stroke-width="0.8"/>
<text x="284.50" y="182.33" font-size="5.5" text-anchor="end" >15000</text>
<line x1="285.00" y1="196.75" x2="287.00" y2="196.75" stroke="#111" stroke-width="0.8"/>
<text x="284.50" y="199.05" font-size="5.5" text-anchor="end" >10000</text>
<line x1="285.00" y1="213.47" x2="287.00" y2="213.47" stroke="#111" stroke-width="0.8"/>
<text x="284.50" y="215.78" font-size="5.5" text-anchor="end" >5000</text>
<line x1="285.00" y1="230.20" x2="287.00" y2="230.20" stroke="#111" stroke-width="0.8"/>
<text x="284.50" y="232.50" font-size="5.5" text-anchor="end" >0</text>
<line x1="299.50" y1="230.20" x2="299.50" y2="231.80" stroke="#111" stroke-width="0.8"/>
<line x1="324.50" y1="230.20" x2="324.50" y2="231.80" stroke="#111" stroke-width="0.8"/>
<line x1="349.50" y1="230.20" x2="349.50" y2="231.80" stroke="#111" stroke-width="0.8"/>
<line x1="374.50" y1="230.20" x2="374.50" y2="231.80" stroke="#111" stroke-width="0.8"/>
<text x="299.30" y="237.80" font-size="6.5" text-anchor="middle" lengthAdjust="spacingAndGlyphs" textLength="23.2">Control</text>
<text x="328.30" y="237.80" font-size="6.6" text-anchor="middle" lengthAdjust="spacingAndGlyphs" textLength="25.6">IRAK-4/</text>
<text x="349.90" y="237.80" font-size="6.6" text-anchor="middle" lengthAdjust="spacingAndGlyphs" textLength="11.4">RPI</text>
<text x="374.90" y="237.80" font-size="6.6" text-anchor="middle" lengthAdjust="spacingAndGlyphs" textLength="12.4">IPD</text>
<text x="328.45" y="246.60" font-size="6.8" text-anchor="middle" lengthAdjust="spacingAndGlyphs" textLength="31.4">MyD88 -/-</text>
<text x="0" y="0" font-size="8" text-anchor="middle" transform="translate(268.40,198.50) rotate(-90)">Arbitrary Units</text>
<text x="336.40" y="150.60" font-size="7.6" text-anchor="middle" >SP TA</text>
<line x1="418.90" y1="163.30" x2="418.90" y2="230.20" stroke="#555" stroke-width="2.0"/>
<line x1="418.30" y1="230.20" x2="519.50" y2="230.20" stroke="#333" stroke-width="1.35"/>
<line x1="416.90" y1="163.30" x2="418.90" y2="163.30" stroke="#111" stroke-width="0.8"/>
<text x="415.50" y="165.60" font-size="5.5" text-anchor="end" >30000</text>
<line x1="416.90" y1="180.03" x2="418.90" y2="180.03" stroke="#111" stroke-width="0.8"/>
<text x="415.50" y="182.33" font-size="5.5" text-anchor="end" >22500</text>
<line x1="416.90" y1="196.75" x2="418.90" y2="196.75" stroke="#111" stroke-width="0.8"/>
<text x="415.50" y="199.05" font-size="5.5" text-anchor="end" >15000</text>
<line x1="416.90" y1="213.47" x2="418.90" y2="213.47" stroke="#111" stroke-width="0.8"/>
<text x="415.50" y="215.78" font-size="5.5" text-anchor="end" >7500</text>
<line x1="416.90" y1="230.20" x2="418.90" y2="230.20" stroke="#111" stroke-width="0.8"/>
<text x="415.50" y="232.50" font-size="5.5" text-anchor="end" >0</text>
<line x1="431.40" y1="230.20" x2="431.40" y2="231.80" stroke="#111" stroke-width="0.8"/>
<line x1="456.40" y1="230.20" x2="456.40" y2="231.80" stroke="#111" stroke-width="0.8"/>
<line x1="481.40" y1="230.20" x2="481.40" y2="231.80" stroke="#111" stroke-width="0.8"/>
<line x1="506.40" y1="230.20" x2="506.40" y2="231.80" stroke="#111" stroke-width="0.8"/>
<text x="431.20" y="237.80" font-size="6.5" text-anchor="middle" lengthAdjust="spacingAndGlyphs" textLength="23.2">Control</text>
<text x="460.20" y="237.80" font-size="6.6" text-anchor="middle" lengthAdjust="spacingAndGlyphs" textLength="25.6">IRAK-4/</text>
<text x="481.80" y="237.80" font-size="6.6" text-anchor="middle" lengthAdjust="spacingAndGlyphs" textLength="11.4">RPI</text>
<text x="506.80" y="237.80" font-size="6.6" text-anchor="middle" lengthAdjust="spacingAndGlyphs" textLength="12.4">IPD</text>
<text x="460.35" y="246.60" font-size="6.8" text-anchor="middle" lengthAdjust="spacingAndGlyphs" textLength="31.4">MyD88 -/-</text>
<text x="0" y="0" font-size="8" text-anchor="middle" transform="translate(399.20,198.70) rotate(-90)">Arbitrary Units</text>
<text x="470.40" y="151.50" font-size="7.6" text-anchor="middle" >SA TA</text>
<rect x="38.55" y="175.25" width="2.9" height="2.9" fill="none" class="m"/>
<rect x="33.45" y="185.65" width="2.9" height="2.9" fill="none" class="m"/>
<rect x="38.05" y="185.65" width="2.9" height="2.9" fill="none" class="m"/>
<rect x="40.45" y="186.35" width="2.9" height="2.9" fill="none" class="m"/>
<rect x="35.65" y="188.25" width="2.9" height="2.9" fill="none" class="m"/>
<rect x="33.45" y="191.15" width="2.9" height="2.9" fill="none" class="m"/>
<rect x="43.35" y="190.45" width="2.9" height="2.9" fill="none" class="m"/>
<rect x="33.45" y="194.75" width="2.9" height="2.9" fill="none" class="m"/>
<rect x="38.05" y="193.75" width="2.9" height="2.9" fill="none" class="m"/>
<rect x="40.75" y="196.45" width="2.9" height="2.9" fill="none" class="m"/>
<rect x="35.65" y="198.55" width="2.9" height="2.9" fill="none" class="m"/>
<rect x="33.45" y="212.25" width="2.9" height="2.9" fill="none" class="m"/>
<rect x="33.45" y="214.85" width="2.9" height="2.9" fill="none" class="m"/>
<rect x="38.05" y="212.75" width="2.9" height="2.9" fill="none" class="m"/>
<rect x="38.05" y="215.35" width="2.9" height="2.9" fill="none" class="m"/>
<rect x="35.95" y="218.55" width="2.9" height="2.9" fill="none" class="m"/>
<circle cx="39.50" cy="193.60" r="1.8" fill="none" class="m"/>
<circle cx="44.80" cy="211.10" r="1.8" fill="none" class="m"/>
<circle cx="42.40" cy="217.30" r="1.8" fill="none" class="m"/>
<line x1="31.30" y1="196.20" x2="47.70" y2="196.20" stroke="#555" stroke-width="0.8"/>
<path d="M64.70 193.45L66.55 196.95L62.85 196.95Z" fill="none" class="m"/>
<path d="M62.60 201.45L64.45 204.95L60.75 204.95Z" fill="none" class="m"/>
<path d="M67.40 201.45L69.25 204.95L65.55 204.95Z" fill="none" class="m"/>
<path d="M67.40 206.75L69.25 210.25L65.55 210.25Z" fill="none" class="m"/>
<path d="M62.60 209.25L64.45 212.75L60.75 212.75Z" fill="none" class="m"/>
<path d="M60.20 212.15L62.05 215.65L58.35 215.65Z" fill="none" class="m"/>
<path d="M64.70 215.05L66.55 218.55L62.85 218.55Z" fill="none" class="m"/>
<path d="M62.40 221.75L64.25 225.25L60.55 225.25Z" fill="none" class="m"/>
<path d="M64.70 182.30L66.80 185.90L62.60 185.90Z" fill="#111"/>
<path d="M69.30 210.40L71.40 214.00L67.20 214.00Z" fill="#111"/>
<path d="M67.40 220.20L69.50 223.80L65.30 223.80Z" fill="#111"/>
<line x1="56.80" y1="210.40" x2="73.20" y2="210.40" stroke="#555" stroke-width="0.8"/>
<rect x="85.75" y="206.15" width="2.9" height="2.9" fill="none" class="m"/>
<rect x="90.55" y="205.75" width="2.9" height="2.9" fill="none" class="m"/>
<rect x="85.75" y="209.95" width="2.9" height="2.9" fill="none" class="m"/>
<rect x="90.55" y="211.45" width="2.9" height="2.9" fill="none" class="m"/>
<rect x="85.75" y="213.35" width="2.9" height="2.9" fill="none" class="m"/>
<rect x="90.55" y="215.05" width="2.9" height="2.9" fill="none" class="m"/>
<rect x="88.55" y="222.25" width="2.9" height="2.9" fill="none" class="m"/>
<line x1="81.20" y1="213.50" x2="98.40" y2="213.50" stroke="#555" stroke-width="0.8"/>
<circle cx="109.70" cy="205.20" r="1.8" fill="none" class="m"/>
<circle cx="114.50" cy="206.00" r="1.8" fill="none" class="m"/>
<circle cx="119.70" cy="205.70" r="1.8" fill="none" class="m"/>
<circle cx="109.70" cy="217.70" r="1.8" fill="none" class="m"/>
<circle cx="114.50" cy="219.30" r="1.8" fill="none" class="m"/>
<circle cx="119.30" cy="216.00" r="1.8" fill="none" class="m"/>
<circle cx="114.50" cy="223.70" r="1.8" fill="none" class="m"/>
<line x1="106.40" y1="216.00" x2="122.70" y2="216.00" stroke="#555" stroke-width="0.8"/>
<rect x="169.45" y="184.45" width="2.9" height="2.9" fill="none" class="m"/>
<rect x="169.95" y="206.65" width="2.9" height="2.9" fill="none" class="m"/>
<rect x="167.65" y="211.75" width="2.9" height="2.9" fill="none" class="m"/>
<rect x="172.45" y="211.75" width="2.9" height="2.9" fill="none" class="m"/>
<rect x="167.65" y="217.55" width="2.9" height="2.9" fill="none" class="m"/>
<rect x="172.45" y="218.05" width="2.9" height="2.9" fill="none" class="m"/>
<rect x="167.65" y="220.35" width="2.9" height="2.9" fill="none" class="m"/>
<rect x="172.45" y="220.95" width="2.9" height="2.9" fill="none" class="m"/>
<rect x="163.55" y="225.05" width="2.9" height="2.9" fill="none" class="m"/>
<rect x="166.55" y="226.05" width="2.9" height="2.9" fill="none" class="m"/>
<rect x="169.55" y="224.55" width="2.9" height="2.9" fill="none" class="m"/>
<rect x="172.55" y="226.05" width="2.9" height="2.9" fill="none" class="m"/>
<rect x="175.55" y="225.55" width="2.9" height="2.9" fill="none" class="m"/>
<rect x="178.55" y="226.35" width="2.9" height="2.9" fill="none" class="m"/>
<rect x="165.55" y="227.05" width="2.9" height="2.9" fill="none" class="m"/>
<rect x="170.55" y="227.05" width="2.9" height="2.9" fill="none" class="m"/>
<line x1="162.00" y1="227.20" x2="183.00" y2="227.20" stroke="#555" stroke-width="0.8"/>
<path d="M196.30 168.55L198.15 172.05L194.45 172.05Z" fill="none" class="m"/>
<path d="M196.30 189.65L198.15 193.15L194.45 193.15Z" fill="none" class="m"/>
<path d="M196.30 194.85L198.15 198.35L194.45 198.35Z" fill="none" class="m"/>
<path d="M201.00 202.35L202.85 205.85L199.15 205.85Z" fill="none" class="m"/>
<path d="M193.70 216.95L195.55 220.45L191.85 220.45Z" fill="none" class="m"/>
<path d="M198.80 217.25L200.65 220.75L196.95 220.75Z" fill="none" class="m"/>
<path d="M193.70 224.45L195.55 227.95L191.85 227.95Z" fill="none" class="m"/>
<path d="M198.80 223.65L200.65 227.15L196.95 227.15Z" fill="none" class="m"/>
<path d="M191.60 203.60L193.70 207.20L189.50 207.20Z" fill="#111"/>
<path d="M196.10 205.40L198.20 209.00L194.00 209.00Z" fill="#111"/>
<path d="M196.10 211.50L198.20 215.10L194.00 215.10Z" fill="#111"/>
<line x1="188.20" y1="207.10" x2="205.00" y2="207.10" stroke="#555" stroke-width="0.8"/>
<path d="M221.30 174.20L223.40 176.30L221.30 178.40L219.20 176.30Z" fill="none" class="m"/>
<path d="M221.30 208.20L223.40 210.30L221.30 212.40L219.20 210.30Z" fill="none" class="m"/>
<path d="M221.30 214.50L223.40 216.60L221.30 218.70L219.20 216.60Z" fill="none" class="m"/>
<path d="M218.40 220.90L220.50 223.00L218.40 225.10L216.30 223.00Z" fill="none" class="m"/>
<path d="M223.80 222.20L225.90 224.30L223.80 226.40L221.70 224.30Z" fill="none" class="m"/>
<circle cx="219.30" cy="228.70" r="1.8" fill="none" class="m"/>
<line x1="213.60" y1="223.30" x2="229.00" y2="223.30" stroke="#555" stroke-width="0.8"/>
<circle cx="246.20" cy="175.00" r="1.8" fill="none" class="m"/>
<circle cx="246.20" cy="206.10" r="1.8" fill="none" class="m"/>
<circle cx="241.40" cy="217.20" r="1.8" fill="none" class="m"/>
<circle cx="251.40" cy="216.60" r="1.8" fill="none" class="m"/>
<circle cx="246.20" cy="220.50" r="1.8" fill="none" class="m"/>
<circle cx="248.70" cy="224.90" r="1.8" fill="none" class="m"/>
<circle cx="243.30" cy="228.70" r="1.8" fill="none" class="m"/>
<line x1="238.50" y1="217.20" x2="253.90" y2="217.20" stroke="#555" stroke-width="0.8"/>
<rect x="297.95" y="167.35" width="2.9" height="2.9" fill="none" class="m"/>
<rect x="302.75" y="171.85" width="2.9" height="2.9" fill="none" class="m"/>
<rect x="293.55" y="174.75" width="2.9" height="2.9" fill="none" class="m"/>
<rect x="297.95" y="176.05" width="2.9" height="2.9" fill="none" class="m"/>
<rect x="295.75" y="182.15" width="2.9" height="2.9" fill="none" class="m"/>
<rect x="300.35" y="182.15" width="2.9" height="2.9" fill="none" class="m"/>
<rect x="297.95" y="198.15" width="2.9" height="2.9" fill="none" class="m"/>
<rect x="295.75" y="202.35" width="2.9" height="2.9" fill="none" class="m"/>
<rect x="300.35" y="202.35" width="2.9" height="2.9" fill="none" class="m"/>
<rect x="295.75" y="204.55" width="2.9" height="2.9" fill="none" class="m"/>
<rect x="300.35" y="204.55" width="2.9" height="2.9" fill="none" class="m"/>
<rect x="293.55" y="213.75" width="2.9" height="2.9" fill="none" class="m"/>
<rect x="299.45" y="213.45" width="2.9" height="2.9" fill="none" class="m"/>
<rect x="302.75" y="213.75" width="2.9" height="2.9" fill="none" class="m"/>
<rect x="297.95" y="217.15" width="2.9" height="2.9" fill="none" class="m"/>
<rect x="297.95" y="222.65" width="2.9" height="2.9" fill="none" class="m"/>
<rect x="296.05" y="213.05" width="2.9" height="2.9" fill="none" class="m"/>
<line x1="291.70" y1="197.80" x2="307.90" y2="197.80" stroke="#555" stroke-width="0.8"/>
<path d="M319.70 192.55L321.55 196.05L317.85 196.05Z" fill="none" class="m"/>
<path d="M324.50 192.05L326.35 195.55L322.65 195.55Z" fill="none" class="m"/>
<path d="M324.50 196.95L326.35 200.45L322.65 200.45Z" fill="none" class="m"/>
<path d="M330.00 201.75L331.85 205.25L328.15 205.25Z" fill="none" class="m"/>
<path d="M319.70 204.95L321.55 208.45L317.85 208.45Z" fill="none" class="m"/>
<path d="M324.50 204.95L326.35 208.45L322.65 208.45Z" fill="none" class="m"/>
<path d="M324.50 215.95L326.35 219.45L322.65 219.45Z" fill="none" class="m"/>
<path d="M324.50 221.45L326.35 224.95L322.65 224.95Z" fill="none" class="m"/>
<path d="M324.50 180.40L326.60 184.00L322.40 184.00Z" fill="#111"/>
<path d="M329.40 192.90L331.50 196.50L327.30 196.50Z" fill="#111"/>
<path d="M324.50 226.50L326.60 230.10L322.40 230.10Z" fill="#111"/>
<line x1="316.50" y1="204.20" x2="332.20" y2="204.20" stroke="#555" stroke-width="0.8"/>
<path d="M346.70 190.10L348.80 192.20L346.70 194.30L344.60 192.20Z" fill="#888" class="m"/>
<path d="M352.00 190.10L354.10 192.20L352.00 194.30L349.90 192.20Z" fill="none" class="m"/>
<path d="M351.60 194.50L353.70 196.60L351.60 198.70L349.50 196.60Z" fill="none" class="m"/>
<path d="M349.30 199.10L351.40 201.20L349.30 203.30L347.20 201.20Z" fill="none" class="m"/>
<path d="M349.30 213.50L351.40 215.60L349.30 217.70L347.20 215.60Z" fill="none" class="m"/>
<path d="M349.30 220.40L351.40 222.50L349.30 224.60L347.20 222.50Z" fill="none" class="m"/>
<line x1="340.60" y1="201.50" x2="357.80" y2="201.50" stroke="#555" stroke-width="0.8"/>
<circle cx="371.90" cy="193.90" r="1.8" fill="none" class="m"/>
<circle cx="376.80" cy="195.30" r="1.8" fill="none" class="m"/>
<circle cx="371.90" cy="207.20" r="1.8" fill="none" class="m"/>
<circle cx="376.80" cy="207.20" r="1.8" fill="none" class="m"/>
<circle cx="374.20" cy="213.20" r="1.8" fill="none" class="m"/>
<circle cx="376.80" cy="214.80" r="1.8" fill="none" class="m"/>
<circle cx="371.90" cy="218.80" r="1.8" fill="none" class="m"/>
<line x1="365.80" y1="207.20" x2="382.50" y2="207.20" stroke="#555" stroke-width="0.8"/>
<rect x="427.55" y="171.05" width="2.9" height="2.9" fill="none" class="m"/>
<rect x="432.55" y="171.05" width="2.9" height="2.9" fill="none" class="m"/>
<rect x="425.15" y="176.05" width="2.9" height="2.9" fill="none" class="m"/>
<rect x="430.25" y="178.45" width="2.9" height="2.9" fill="none" class="m"/>
<rect x="434.85" y="177.35" width="2.9" height="2.9" fill="none" class="m"/>
<rect x="428.05" y="182.15" width="2.9" height="2.9" fill="none" class="m"/>
<rect x="432.55" y="185.25" width="2.9" height="2.9" fill="none" class="m"/>
<rect x="430.25" y="190.25" width="2.9" height="2.9" fill="none" class="m"/>
<rect x="425.65" y="192.65" width="2.9" height="2.9" fill="none" class="m"/>
<rect x="428.05" y="194.45" width="2.9" height="2.9" fill="none" class="m"/>
<rect x="432.55" y="193.95" width="2.9" height="2.9" fill="none" class="m"/>
<rect x="427.55" y="199.05" width="2.9" height="2.9" fill="none" class="m"/>
<rect x="432.55" y="199.95" width="2.9" height="2.9" fill="none" class="m"/>
<rect x="432.55" y="207.95" width="2.9" height="2.9" fill="none" class="m"/>
<rect x="427.55" y="210.45" width="2.9" height="2.9" fill="none" class="m"/>
<rect x="427.55" y="218.95" width="2.9" height="2.9" fill="none" class="m"/>
<rect x="432.55" y="218.95" width="2.9" height="2.9" fill="none" class="m"/>
<rect x="427.55" y="223.95" width="2.9" height="2.9" fill="none" class="m"/>
<line x1="424.40" y1="195.00" x2="439.50" y2="195.00" stroke="#555" stroke-width="0.8"/>
<path d="M456.00 174.85L457.85 178.35L454.15 178.35Z" fill="none" class="m"/>
<path d="M453.80 184.15L455.65 187.65L451.95 187.65Z" fill="none" class="m"/>
<path d="M461.20 191.45L463.05 194.95L459.35 194.95Z" fill="none" class="m"/>
<path d="M456.00 193.35L457.85 196.85L454.15 196.85Z" fill="none" class="m"/>
<path d="M459.00 198.05L460.85 201.55L457.15 201.55Z" fill="none" class="m"/>
<path d="M456.00 204.95L457.85 208.45L454.15 208.45Z" fill="none" class="m"/>
<path d="M456.00 209.85L457.85 213.35L454.15 213.35Z" fill="none" class="m"/>
<path d="M459.00 185.50L461.10 189.10L456.90 189.10Z" fill="#111"/>
<path d="M451.60 190.70L453.70 194.30L449.50 194.30Z" fill="#111"/>
<path d="M453.80 196.60L455.90 200.20L451.70 200.20Z" fill="#111"/>
<path d="M456.00 226.40L458.10 230.00L453.90 230.00Z" fill="#111"/>
<line x1="448.00" y1="195.00" x2="465.20" y2="195.00" stroke="#555" stroke-width="0.8"/>
<path d="M481.20 172.30L483.30 174.40L481.20 176.50L479.10 174.40Z" fill="none" class="m"/>
<path d="M481.20 179.10L483.30 181.20L481.20 183.30L479.10 181.20Z" fill="none" class="m"/>
<path d="M481.20 202.50L483.30 204.60L481.20 206.70L479.10 204.60Z" fill="none" class="m"/>
<path d="M481.20 212.80L483.30 214.90L481.20 217.00L479.10 214.90Z" fill="none" class="m"/>
<path d="M477.00 214.60L479.10 216.70L477.00 218.80L474.90 216.70Z" fill="none" class="m"/>
<path d="M483.80 216.50L485.90 218.60L483.80 220.70L481.70 218.60Z" fill="none" class="m"/>
<path d="M478.80 217.80L480.90 219.90L478.80 222.00L476.70 219.90Z" fill="none" class="m"/>
<line x1="472.70" y1="214.90" x2="489.90" y2="214.90" stroke="#555" stroke-width="0.8"/>
<circle cx="505.90" cy="182.50" r="1.8" fill="none" class="m"/>
<circle cx="503.70" cy="202.40" r="1.8" fill="none" class="m"/>
<circle cx="508.80" cy="202.40" r="1.8" fill="none" class="m"/>
<circle cx="503.70" cy="219.90" r="1.8" fill="none" class="m"/>
<circle cx="508.80" cy="221.70" r="1.8" fill="none" class="m"/>
<circle cx="508.80" cy="224.80" r="1.8" fill="none" class="m"/>
<circle cx="503.70" cy="227.20" r="1.8" fill="none" class="m"/>
<line x1="498.10" y1="219.90" x2="515.10" y2="219.90" stroke="#555" stroke-width="0.8"/>
<line x1="30.80" y1="288.50" x2="30.80" y2="377.90" stroke="#111" stroke-width="1.2"/>
<line x1="27.60" y1="288.50" x2="30.80" y2="288.50" stroke="#111" stroke-width="1.0"/>
<line x1="27.60" y1="310.60" x2="30.80" y2="310.60" stroke="#111" stroke-width="1.0"/>
<line x1="27.60" y1="333.00" x2="30.80" y2="333.00" stroke="#111" stroke-width="1.0"/>
<line x1="27.60" y1="355.70" x2="30.80" y2="355.70" stroke="#111" stroke-width="1.0"/>
<line x1="27.60" y1="377.90" x2="30.80" y2="377.90" stroke="#111" stroke-width="1.0"/>
<path d="M30.2 377.7H106.4M115.2 377.7H191.2M198.4 377.7H272.8" stroke="#000" stroke-width="1.9" fill="none"/>
<path d="M106.4 378.3H115.2M191.2 378.3H198.4M272.8 378.3H300.1" stroke="#111" stroke-width="1.1" fill="none"/>
<text x="23.70" y="308.90" font-size="8.7" text-anchor="end" >0.2</text>
<text x="23.70" y="344.10" font-size="8.7" text-anchor="end" >0.1</text>
<text x="0" y="0" font-size="9.6" text-anchor="middle" lengthAdjust="spacingAndGlyphs" textLength="47.6" transform="translate(8.0,324.6) rotate(-90)">OD (450 nm)</text>
<text x="155.00" y="271.00" font-size="10.2" text-anchor="middle" >C3a</text>
<text x="71.00" y="387.80" font-size="9" text-anchor="middle" >PC</text>
<text x="153.70" y="387.80" font-size="9" text-anchor="middle" >SP Capsules</text>
<text x="237.30" y="387.80" font-size="9" text-anchor="middle" >SP TA</text>
<polygon points="53.90,288.70 54.66,290.25 56.37,290.50 55.14,291.70 55.43,293.40 53.90,292.60 52.37,293.40 52.66,291.70 51.43,290.50 53.14,290.25" fill="#000"/>
<polygon points="59.80,288.70 60.56,290.25 62.27,290.50 61.04,291.70 61.33,293.40 59.80,292.60 58.27,293.40 58.56,291.70 57.33,290.50 59.04,290.25" fill="#000"/>
<polygon points="65.70,288.70 66.46,290.25 68.17,290.50 66.94,291.70 67.23,293.40 65.70,292.60 64.17,293.40 64.46,291.70 63.23,290.50 64.94,290.25" fill="#000"/>
<rect x="40.05" y="304.65" width="2.9" height="2.9" fill="none" class="m"/>
<rect x="42.95" y="318.45" width="2.9" height="2.9" fill="none" class="m"/>
<rect x="37.15" y="320.95" width="2.9" height="2.9" fill="none" class="m"/>
<rect x="37.15" y="324.25" width="2.9" height="2.9" fill="none" class="m"/>
<rect x="42.95" y="328.05" width="2.9" height="2.9" fill="none" class="m"/>
<rect x="34.65" y="331.55" width="2.9" height="2.9" fill="none" class="m"/>
<rect x="40.05" y="334.95" width="2.9" height="2.9" fill="none" class="m"/>
<rect x="45.85" y="334.95" width="2.9" height="2.9" fill="none" class="m"/>
<rect x="37.15" y="340.75" width="2.9" height="2.9" fill="none" class="m"/>
<rect x="42.95" y="342.05" width="2.9" height="2.9" fill="none" class="m"/>
<rect x="42.95" y="348.85" width="2.9" height="2.9" fill="none" class="m"/>
<rect x="37.15" y="351.65" width="2.9" height="2.9" fill="none" class="m"/>
<line x1="33.00" y1="334.00" x2="49.00" y2="334.00" stroke="#555" stroke-width="0.8"/>
<path d="M61.10 340.25L62.95 343.75L59.25 343.75Z" fill="none" class="m"/>
<path d="M66.50 343.65L68.35 347.15L64.65 347.15Z" fill="none" class="m"/>
<path d="M59.20 352.95L61.05 356.45L57.35 356.45Z" fill="none" class="m"/>
<path d="M63.80 355.95L65.65 359.45L61.95 359.45Z" fill="none" class="m"/>
<path d="M66.50 353.25L68.35 356.75L64.65 356.75Z" fill="none" class="m"/>
<path d="M69.20 355.55L71.05 359.05L67.35 359.05Z" fill="none" class="m"/>
<path d="M63.40 350.20L65.50 353.80L61.30 353.80Z" fill="#111"/>
<path d="M57.30 354.40L59.40 358.00L55.20 358.00Z" fill="#111"/>
<path d="M62.00 353.40L64.10 357.00L59.90 357.00Z" fill="#111"/>
<line x1="56.10" y1="353.40" x2="71.50" y2="353.40" stroke="#222" stroke-width="1.2"/>
<path d="M86.10 300.40L88.20 302.50L86.10 304.60L84.00 302.50Z" fill="none" class="m"/>
<path d="M80.70 327.70L82.80 329.80L80.70 331.90L78.60 329.80Z" fill="none" class="m"/>
<path d="M92.00 328.20L94.10 330.30L92.00 332.40L89.90 330.30Z" fill="none" class="m"/>
<path d="M86.10 330.90L88.20 333.00L86.10 335.10L84.00 333.00Z" fill="none" class="m"/>
<path d="M86.10 336.60L88.20 338.70L86.10 340.80L84.00 338.70Z" fill="none" class="m"/>
<path d="M83.10 347.40L85.20 349.50L83.10 351.60L81.00 349.50Z" fill="none" class="m"/>
<path d="M89.00 344.90L91.10 347.00L89.00 349.10L86.90 347.00Z" fill="none" class="m"/>
<line x1="78.60" y1="332.70" x2="94.70" y2="332.70" stroke="#333" stroke-width="0.9"/>
<circle cx="108.70" cy="330.90" r="1.8" fill="none" class="m"/>
<circle cx="105.80" cy="337.00" r="1.8" fill="none" class="m"/>
<circle cx="111.70" cy="336.20" r="1.8" fill="none" class="m"/>
<circle cx="103.30" cy="353.10" r="1.8" fill="none" class="m"/>
<circle cx="108.70" cy="357.20" r="1.8" fill="none" class="m"/>
<circle cx="114.10" cy="355.40" r="1.8" fill="none" class="m"/>
<circle cx="108.70" cy="342.90" r="1.8" fill="#555" class="m"/>
<line x1="101.50" y1="342.90" x2="116.60" y2="342.90" stroke="#333" stroke-width="0.9"/>
<rect x="126.95" y="299.25" width="2.9" height="2.9" fill="none" class="m"/>
<rect x="132.75" y="303.75" width="2.9" height="2.9" fill="none" class="m"/>
<rect x="126.95" y="320.95" width="2.9" height="2.9" fill="none" class="m"/>
<rect x="132.75" y="320.95" width="2.9" height="2.9" fill="none" class="m"/>
<rect x="126.95" y="329.65" width="2.9" height="2.9" fill="none" class="m"/>
<rect x="132.75" y="329.65" width="2.9" height="2.9" fill="none" class="m"/>
<rect x="129.85" y="334.95" width="2.9" height="2.9" fill="none" class="m"/>
<rect x="126.95" y="337.25" width="2.9" height="2.9" fill="none" class="m"/>
<rect x="132.75" y="341.15" width="2.9" height="2.9" fill="none" class="m"/>
<rect x="124.65" y="346.55" width="2.9" height="2.9" fill="none" class="m"/>
<rect x="129.85" y="347.85" width="2.9" height="2.9" fill="none" class="m"/>
<rect x="135.65" y="346.85" width="2.9" height="2.9" fill="none" class="m"/>
<line x1="124.20" y1="334.50" x2="139.00" y2="334.50" stroke="#333" stroke-width="0.9"/>
<path d="M153.80 292.15L155.65 295.65L151.95 295.65Z" fill="none" class="m"/>
<path d="M148.60 319.85L150.45 323.35L146.75 323.35Z" fill="none" class="m"/>
<path d="M154.30 323.25L156.15 326.75L152.45 326.75Z" fill="none" class="m"/>
<path d="M151.50 326.75L153.35 330.25L149.65 330.25Z" fill="none" class="m"/>
<path d="M156.30 329.05L158.15 332.55L154.45 332.55Z" fill="none" class="m"/>
<path d="M148.60 333.85L150.45 337.35L146.75 337.35Z" fill="none" class="m"/>
<path d="M153.40 333.25L155.25 336.75L151.55 336.75Z" fill="none" class="m"/>
<path d="M159.10 334.35L160.95 337.85L157.25 337.85Z" fill="none" class="m"/>
<path d="M156.30 337.65L158.15 341.15L154.45 341.15Z" fill="none" class="m"/>
<path d="M159.50 322.80L161.60 326.40L157.40 326.40Z" fill="#111"/>
<line x1="146.70" y1="331.10" x2="162.00" y2="331.10" stroke="#333" stroke-width="0.9"/>
<path d="M176.30 309.80L178.40 311.90L176.30 314.00L174.20 311.90Z" fill="none" class="m"/>
<path d="M176.30 317.80L178.40 319.90L176.30 322.00L174.20 319.90Z" fill="none" class="m"/>
<path d="M173.40 344.70L175.50 346.80L173.40 348.90L171.30 346.80Z" fill="none" class="m"/>
<path d="M179.20 344.70L181.30 346.80L179.20 348.90L177.10 346.80Z" fill="none" class="m"/>
<path d="M170.60 349.70L172.70 351.80L170.60 353.90L168.50 351.80Z" fill="none" class="m"/>
<path d="M176.30 351.00L178.40 353.10L176.30 355.20L174.20 353.10Z" fill="none" class="m"/>
<path d="M182.10 349.70L184.20 351.80L182.10 353.90L180.00 351.80Z" fill="none" class="m"/>
<line x1="168.60" y1="347.40" x2="184.00" y2="347.40" stroke="#333" stroke-width="0.9"/>
<circle cx="198.80" cy="326.80" r="1.8" fill="none" class="m"/>
<circle cx="193.60" cy="332.00" r="1.8" fill="none" class="m"/>
<circle cx="204.10" cy="334.50" r="1.8" fill="none" class="m"/>
<circle cx="196.10" cy="347.40" r="1.8" fill="none" class="m"/>
<circle cx="201.80" cy="350.30" r="1.8" fill="none" class="m"/>
<circle cx="198.80" cy="356.40" r="1.8" fill="none" class="m"/>
<circle cx="198.80" cy="336.80" r="1.8" fill="#555" class="m"/>
<line x1="191.10" y1="336.80" x2="207.00" y2="336.80" stroke="#333" stroke-width="0.9"/>
<rect x="217.8" y="362.2" width="6.9" height="6.8" fill="#111"/>
<rect x="219.55" y="346.25" width="2.9" height="2.9" fill="none" class="m"/>
<rect x="225.35" y="354.45" width="2.9" height="2.9" fill="none" class="m"/>
<rect x="214.25" y="356.55" width="2.9" height="2.9" fill="none" class="m"/>
<rect x="219.55" y="358.95" width="2.9" height="2.9" fill="none" class="m"/>
<rect x="214.25" y="362.25" width="2.9" height="2.9" fill="none" class="m"/>
<rect x="225.35" y="363.05" width="2.9" height="2.9" fill="none" class="m"/>
<rect x="214.25" y="366.35" width="2.9" height="2.9" fill="none" class="m"/>
<rect x="219.15" y="368.35" width="2.9" height="2.9" fill="none" class="m"/>
<rect x="225.35" y="366.75" width="2.9" height="2.9" fill="none" class="m"/>
<line x1="212.70" y1="365.40" x2="229.60" y2="365.40" stroke="#222" stroke-width="1.0"/>
<path d="M243.80 349.65L245.65 353.15L241.95 353.15Z" fill="none" class="m"/>
<path d="M238.30 356.95L240.15 360.45L236.45 360.45Z" fill="none" class="m"/>
<path d="M246.30 356.95L248.15 360.45L244.45 360.45Z" fill="none" class="m"/>
<path d="M249.00 363.95L250.85 367.45L247.15 367.45Z" fill="none" class="m"/>
<path d="M246.30 361.95L248.15 365.45L244.45 365.45Z" fill="none" class="m"/>
<path d="M241.00 356.90L243.10 360.50L238.90 360.50Z" fill="#111"/>
<path d="M249.00 356.90L251.10 360.50L246.90 360.50Z" fill="#111"/>
<path d="M241.30 360.50L243.40 364.10L239.20 364.10Z" fill="#111"/>
<path d="M238.30 363.50L240.40 367.10L236.20 367.10Z" fill="#111"/>
<path d="M244.00 365.20L246.10 368.80L241.90 368.80Z" fill="#111"/>
<line x1="235.80" y1="360.30" x2="251.50" y2="360.30" stroke="#333" stroke-width="0.9"/>
<path d="M266.30 356.80L268.40 358.90L266.30 361.00L264.20 358.90Z" fill="none" class="m"/>
<path d="M262.40 362.30L264.50 364.40L262.40 366.50L260.30 364.40Z" fill="none" class="m"/>
<path d="M266.00 363.00L268.10 365.10L266.00 367.20L263.90 365.10Z" fill="none" class="m"/>
<path d="M268.70 364.40L270.80 366.50L268.70 368.60L266.60 366.50Z" fill="none" class="m"/>
<path d="M271.70 363.00L273.80 365.10L271.70 367.20L269.60 365.10Z" fill="none" class="m"/>
<path d="M263.60 366.10L265.70 368.20L263.60 370.30L261.50 368.20Z" fill="none" class="m"/>
<path d="M259.80 363.20L261.90 365.30L259.80 367.40L257.70 365.30Z" fill="#111" class="m"/>
<line x1="258.00" y1="365.60" x2="274.00" y2="365.60" stroke="#333" stroke-width="0.9"/>
<ellipse cx="283.6" cy="367.3" rx="2.6" ry="1.9" fill="#111"/>
<circle cx="288.60" cy="356.40" r="1.8" fill="none" class="m"/>
<circle cx="285.70" cy="367.80" r="1.8" fill="none" class="m"/>
<circle cx="291.20" cy="368.20" r="1.8" fill="none" class="m"/>
<circle cx="294.00" cy="364.00" r="1.8" fill="none" class="m"/>
<circle cx="294.60" cy="366.50" r="1.8" fill="none" class="m"/>
<line x1="281.50" y1="366.90" x2="296.30" y2="366.90" stroke="#333" stroke-width="0.9"/>
<rect x="253.5" y="285.5" width="3.6" height="3.6" fill="none" stroke="#333" stroke-width="0.9"/>
<text x="262.90" y="289.90" font-size="6.8" text-anchor="start" >Control</text>
<path d="M255.9 298.0L258.3 302.8L253.5 302.8Z" fill="none" stroke="#222" stroke-width="0.7"/>
<text x="263.60" y="302.80" font-size="6.8" text-anchor="start" >IRAK-4</text>
<path d="M255.2 309.0L258.5 314.2L251.9 314.2Z" fill="#000"/>
<text x="262.90" y="314.40" font-size="6.9" text-anchor="start" >MyD88 -/-</text>
<path d="M257.2 319.5L258.9 322.3L257.2 325.1L255.5 322.3Z" fill="none" stroke="#222" stroke-width="0.8"/>
<text x="264.20" y="324.60" font-size="6.9" text-anchor="start" >RPI</text>
<circle cx="257.5" cy="331.3" r="1.55" fill="none" stroke="#555" stroke-width="0.75"/>
<text x="264.20" y="334.10" font-size="6.9" text-anchor="start" >IPD</text>
<line x1="368.70" y1="287.50" x2="368.70" y2="370.30" stroke="#444" stroke-width="1.4"/>
<line x1="368.00" y1="370.30" x2="493.80" y2="370.30" stroke="#333" stroke-width="1.4"/>
<line x1="366.90" y1="287.50" x2="368.70" y2="287.50" stroke="#222" stroke-width="0.8"/>
<text x="365.70" y="289.50" font-size="6.0" text-anchor="end" >0.3</text>
<line x1="366.90" y1="315.10" x2="368.70" y2="315.10" stroke="#222" stroke-width="0.8"/>
<text x="365.70" y="317.10" font-size="6.0" text-anchor="end" >0.2</text>
<line x1="366.90" y1="342.70" x2="368.70" y2="342.70" stroke="#222" stroke-width="0.8"/>
<text x="365.70" y="344.70" font-size="6.0" text-anchor="end" >0.1</text>
<line x1="366.90" y1="370.30" x2="368.70" y2="370.30" stroke="#222" stroke-width="0.8"/>
<text x="365.70" y="372.30" font-size="6.0" text-anchor="end" >0.0</text>
<line x1="368.70" y1="370.30" x2="368.70" y2="372.10" stroke="#222" stroke-width="0.8"/>
<text x="368.70" y="378.70" font-size="5.6" text-anchor="middle" >0</text>
<line x1="410.40" y1="370.30" x2="410.40" y2="372.10" stroke="#222" stroke-width="0.8"/>
<text x="410.40" y="378.70" font-size="5.6" text-anchor="middle" >2000</text>
<line x1="452.10" y1="370.30" x2="452.10" y2="372.10" stroke="#222" stroke-width="0.8"/>
<text x="452.10" y="378.70" font-size="5.6" text-anchor="middle" >4000</text>
<line x1="493.80" y1="370.30" x2="493.80" y2="372.10" stroke="#222" stroke-width="0.8"/>
<text x="493.80" y="378.70" font-size="5.6" text-anchor="middle" >6000</text>
<text x="0" y="0" font-size="7.0" text-anchor="middle" lengthAdjust="spacingAndGlyphs" textLength="55.4" transform="translate(353.2,328.3) rotate(-90)">C3a (OD 450 nm)</text>
<text x="429.70" y="388.80" font-size="6.6" text-anchor="middle" >IgM (Arbitrary Units)</text>
<text x="425.30" y="275.10" font-size="9.8" text-anchor="middle" >C3a : IgM Correlation</text>
<text x="460.00" y="356.60" font-size="7.0" text-anchor="start" >r = 0.70</text>
<text x="460.00" y="365.40" font-size="7.0" text-anchor="start" >p = 0.0006</text>
<line x1="373.00" y1="339.40" x2="468.60" y2="304.20" stroke="#111" stroke-width="0.9"/>
<circle cx="373.1" cy="329.7" r="1.75" fill="#000"/>
<circle cx="379" cy="319" r="1.75" fill="#000"/>
<circle cx="374.3" cy="343" r="1.75" fill="#000"/>
<circle cx="377.5" cy="344.8" r="1.75" fill="#000"/>
<circle cx="381.5" cy="342.6" r="1.75" fill="#000"/>
<circle cx="383.2" cy="342.6" r="1.75" fill="#000"/>
<circle cx="387.4" cy="339.4" r="1.75" fill="#000"/>
<circle cx="389.7" cy="338.7" r="1.75" fill="#000"/>
<circle cx="395.1" cy="338.1" r="1.75" fill="#000"/>
<circle cx="398.1" cy="340.5" r="1.75" fill="#000"/>
<circle cx="397.6" cy="326.2" r="1.75" fill="#000"/>
<circle cx="402.2" cy="336.4" r="1.75" fill="#000"/>
<circle cx="405.3" cy="319" r="1.75" fill="#000"/>
<circle cx="416" cy="325.6" r="1.75" fill="#000"/>
<circle cx="421.4" cy="315.4" r="1.75" fill="#000"/>
<circle cx="429.8" cy="298.8" r="1.75" fill="#000"/>
<circle cx="432.1" cy="303.3" r="1.75" fill="#000"/>
<circle cx="468.3" cy="310.4" r="1.75" fill="#000"/>
<circle cx="448.9" cy="327.9" r="1.75" fill="#000"/>
</svg>
</body></html>
